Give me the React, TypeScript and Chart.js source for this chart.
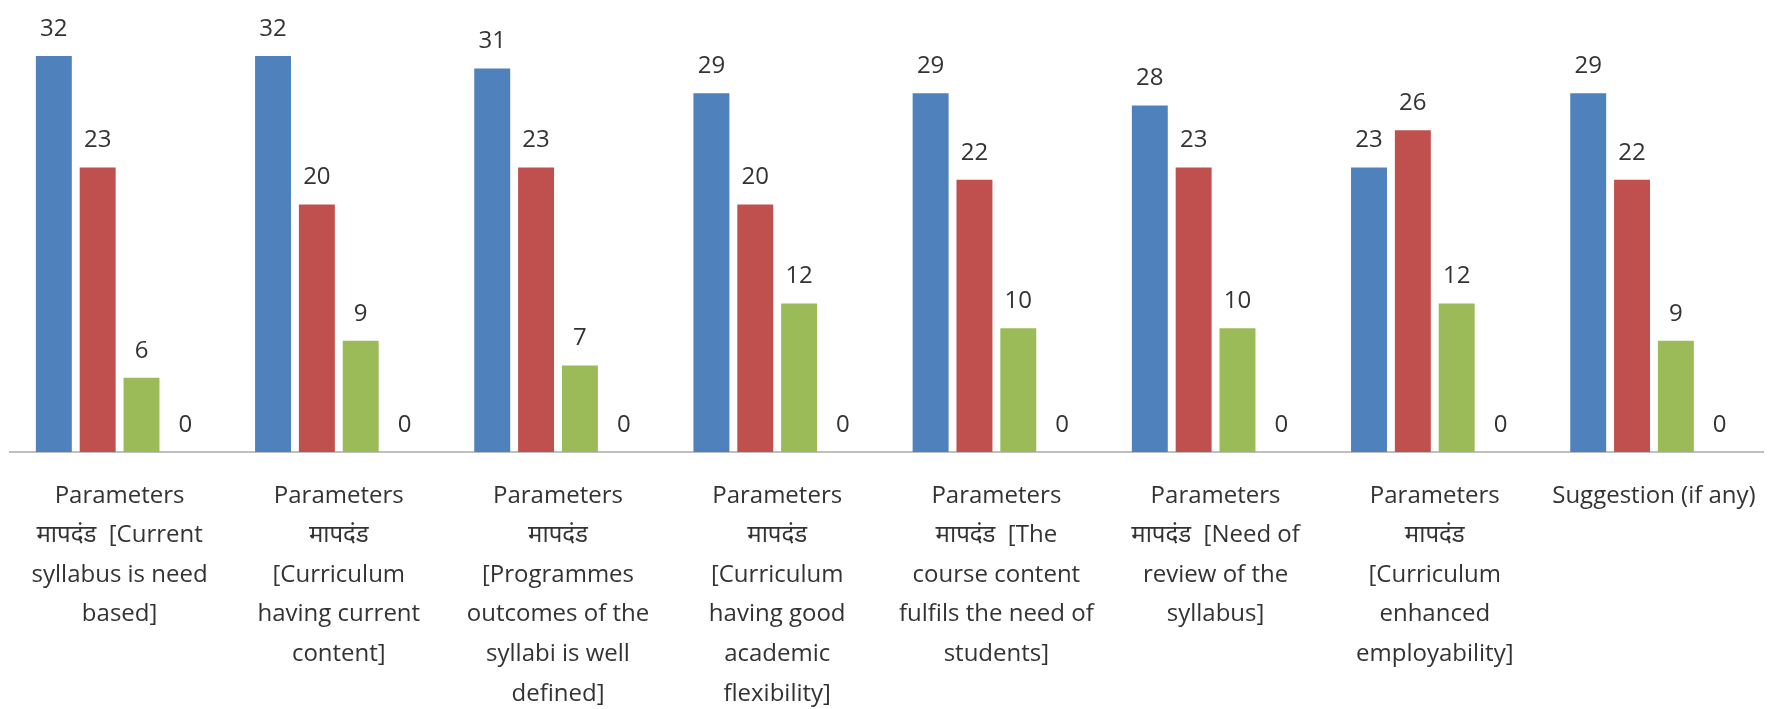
import React, { useEffect, useRef } from "react";
import { Chart, registerables } from "chart.js";

Chart.register(...registerables);

const categories: string[][] = [
  ["Parameters", "मापदंड  [Current", "syllabus is need", "based]"],
  ["Parameters", "मापदंड", "[Curriculum", "having current", "content]"],
  ["Parameters", "मापदंड", "[Programmes", "outcomes of the", "syllabi is well", "defined]"],
  ["Parameters", "मापदंड", "[Curriculum", "having good", "academic", "flexibility]"],
  ["Parameters", "मापदंड  [The", "course content", "fulfils the need of", "students]"],
  ["Parameters", "मापदंड  [Need of", "review of the", "syllabus]"],
  ["Parameters", "मापदंड", "[Curriculum", "enhanced", "employability]"],
  ["Suggestion (if any)"],
];

const seriesNames = ["Series 1", "Series 2", "Series 3", "Series 4"];
const series1 = [32, 32, 31, 29, 29, 28, 23, 29];
const series2 = [23, 20, 23, 20, 22, 23, 26, 22];
const series3 = [6, 9, 7, 12, 10, 10, 12, 9];
const series4 = [0, 0, 0, 0, 0, 0, 0, 0];
const seriesColors = ["#4F81BD", "#C0504D", "#9BBB59", "#8064A2"];

const FONT = "'Open Sans', 'Noto Sans', sans-serif";

const valueLabels = {
  id: "valueLabels",
  afterDatasetsDraw(chart: any) {
    const ctx = chart.ctx;
    ctx.save();
    ctx.font = `24px ${FONT}`;
    ctx.fillStyle = "#333333";
    ctx.textAlign = "center";
    ctx.textBaseline = "middle";
    chart.data.datasets.forEach((ds: any, i: number) => {
      const meta = chart.getDatasetMeta(i);
      meta.data.forEach((bar: any, j: number) => {
        ctx.fillText(String(ds.data[j]), bar.x, bar.y - 27);
      });
    });
    ctx.restore();
  },
};

export default function App() {
  const ref = useRef<HTMLCanvasElement | null>(null);
  useEffect(() => {
    document.body.style.margin = "0";
    const all = [series1, series2, series3, series4];
    const chart = new Chart(ref.current!, {
      type: "bar",
      data: {
        labels: categories,
        datasets: all.map((d, i) => ({
          label: seriesNames[i],
          data: d,
          backgroundColor: seriesColors[i],
          categoryPercentage: 0.8,
          barPercentage: 0.82,
        })),
      },
      options: {
        animation: false,
        responsive: false,
        maintainAspectRatio: false,
        layout: { padding: { top: 19, left: 10, right: 5, bottom: 0 } },
        plugins: {
          legend: { display: false },
          tooltip: { enabled: false },
        },
        scales: {
          y: {
            display: false,
            min: 0,
            max: 35,
          },
          x: {
            grid: { display: false },
            border: { color: "#BFBFBF", width: 2 },
            ticks: {
              color: "#333333",
              font: { family: FONT, size: 24, lineHeight: 1.65 },
              padding: 16,
              maxRotation: 0,
              minRotation: 0,
              autoSkip: false,
            },
            afterFit: (scale: any) => {
              scale.height = 257;
            },
          },
        },
      },
      plugins: [valueLabels],
    });
    return () => chart.destroy();
  }, []);
  return (
    <div style={{ width: 1772, height: 709, background: "#fff" }}>
      <canvas ref={ref} width={1772} height={709} />
    </div>
  );
}
